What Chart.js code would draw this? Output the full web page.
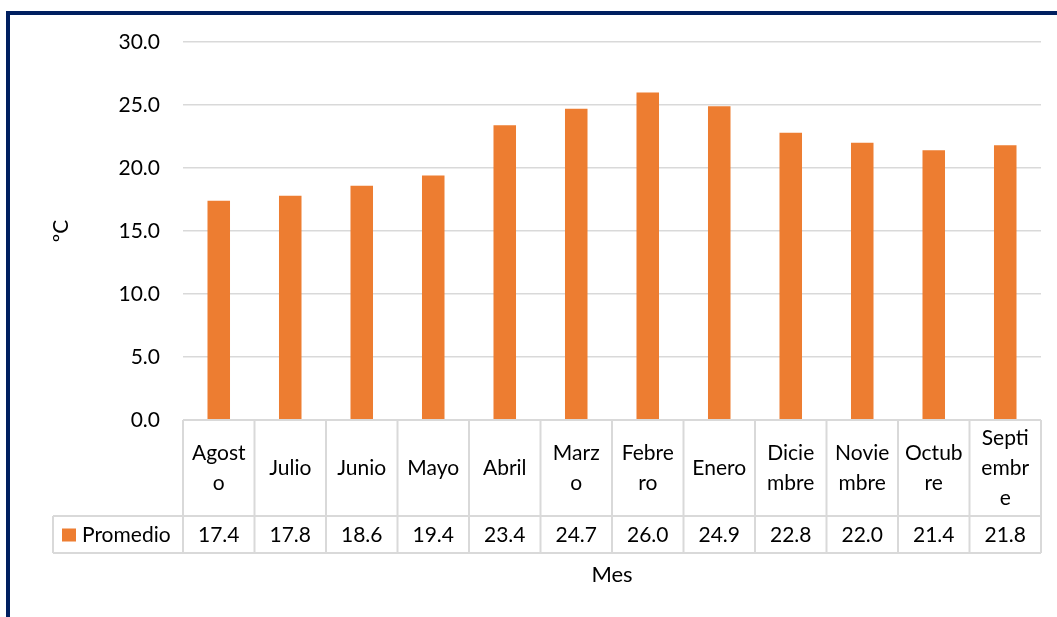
<!DOCTYPE html>
<html>
<head>
<meta charset="utf-8">
<script src="https://cdn.jsdelivr.net/npm/chart.js@4"></script>
<style>
    html, body { margin: 0; padding: 0; background: #ffffff; overflow: hidden; }
    #marco {
        position: absolute; left: 6px; top: 11px; width: 1100px; height: 700px;
        border-left: 4px solid #002060; border-top: 4px solid #002060;
    }
    #wrap { position: absolute; left: 0; top: 0; width: 1057px; height: 617px; }
</style>
</head>
<body>
<div id="marco"></div>
<div id="wrap"><canvas id="grafico"></canvas></div>
<script>
// ---- datos ----
var meses = ['Agosto', 'Julio', 'Junio', 'Mayo', 'Abril', 'Marzo', 'Febrero', 'Enero', 'Diciembre', 'Noviembre', 'Octubre', 'Septiembre'];
// etiquetas tal como las parte Excel en la tabla
var mesesLineas = [['Agost', 'o'], ['Julio'], ['Junio'], ['Mayo'], ['Abril'], ['Marz', 'o'], ['Febre', 'ro'], ['Enero'], ['Dicie', 'mbre'], ['Novie', 'mbre'], ['Octub', 're'], ['Septi', 'embr', 'e']];
var promedio = [17.4, 17.8, 18.6, 19.4, 23.4, 24.7, 26.0, 24.9, 22.8, 22.0, 21.4, 21.8];
var serieNombre = 'Promedio';
var ejeY = { min: 0, max: 30, paso: 5 };

var NARANJA = '#ED7D31';
var GRIS = '#D9D9D9';
var TEXTO = '#000000';
var FUENTE = 'Lato, "Open Sans", sans-serif';

// ── tabla de datos bajo el gráfico (estilo Excel) ────────────
var tablaDatos = {
    id: 'tablaDatos',
    afterDraw: function (chart) {
        var ctx = chart.ctx;
        var x = chart.scales.x;
        var area = chart.chartArea;
        var n = meses.length;
        var w = (area.right - area.left) / n;
        var top = area.bottom;
        var mid = top + 96;
        var bot = mid + 37;
        var legLeft = 53;

        ctx.save();
        ctx.strokeStyle = GRIS;
        ctx.lineWidth = 2;
        ctx.beginPath();
        // horizontales
        ctx.moveTo(area.left, top); ctx.lineTo(area.right, top);
        ctx.moveTo(legLeft, mid); ctx.lineTo(area.right, mid);
        ctx.moveTo(legLeft, bot); ctx.lineTo(area.right, bot);
        // verticales
        ctx.moveTo(legLeft, mid); ctx.lineTo(legLeft, bot);
        for (var i = 0; i <= n; i++) {
            var cx = x.getPixelForValue(Math.min(i, n - 1)) + (i === n ? w / 2 : -w / 2);
            ctx.moveTo(cx, top); ctx.lineTo(cx, bot);
        }
        ctx.stroke();

        ctx.fillStyle = TEXTO;
        ctx.font = '21px ' + FUENTE;
        ctx.textAlign = 'center';
        ctx.textBaseline = 'middle';
        var lh = 30;
        var cyHead = (top + mid) / 2;
        var cyVal = (mid + bot) / 2 + 1;
        for (var j = 0; j < n; j++) {
            var px = x.getPixelForValue(j);
            var lineas = mesesLineas[j];
            var y0 = cyHead - (lineas.length - 1) * lh / 2;
            for (var k = 0; k < lineas.length; k++) {
                ctx.fillText(lineas[k], px, y0 + k * lh);
            }
            ctx.fillText(promedio[j].toFixed(1), px, cyVal);
        }

        // clave de la leyenda
        ctx.fillStyle = NARANJA;
        ctx.fillRect(62, cyVal - 7, 14, 13);
        ctx.fillStyle = TEXTO;
        ctx.textAlign = 'left';
        ctx.fillText(serieNombre, 82, cyVal);
        ctx.restore();
    }
};

Chart.defaults.font.family = FUENTE;
Chart.defaults.font.size = 21;
Chart.defaults.color = TEXTO;

new Chart(document.getElementById('grafico'), {
    type: 'bar',
    data: {
        labels: meses,
        datasets: [{
            label: serieNombre,
            data: promedio,
            backgroundColor: NARANJA,
            borderWidth: 0,
            barPercentage: 0.315,
            categoryPercentage: 1.0
        }]
    },
    options: {
        responsive: true,
        maintainAspectRatio: false,
        animation: false,
        layout: { padding: { left: 0, right: 16, top: 42, bottom: 0 } },
        plugins: {
            legend: { display: false },
            tooltip: { enabled: false }
        },
        scales: {
            x: {
                ticks: { display: false },
                grid: { display: false },
                border: { display: false },
                title: { display: true, text: 'Mes', color: TEXTO, font: { size: 22 }, padding: { top: 0, bottom: 29 } },
                afterFit: function (s) { s.height = 197; }
            },
            y: {
                min: ejeY.min,
                max: ejeY.max,
                ticks: {
                    stepSize: ejeY.paso,
                    padding: 23,
                    color: TEXTO,
                    callback: function (v) { return Number(v).toFixed(1); }
                },
                grid: { color: GRIS, lineWidth: 1.5, drawTicks: false },
                border: { display: false },
                title: { display: true, text: 'ºC', color: TEXTO, font: { size: 21 }, padding: { top: 49, bottom: 0 } },
                afterFit: function (s) { s.width = 183; }
            }
        }
    },
    plugins: [tablaDatos]
});
</script>
</body>
</html>
